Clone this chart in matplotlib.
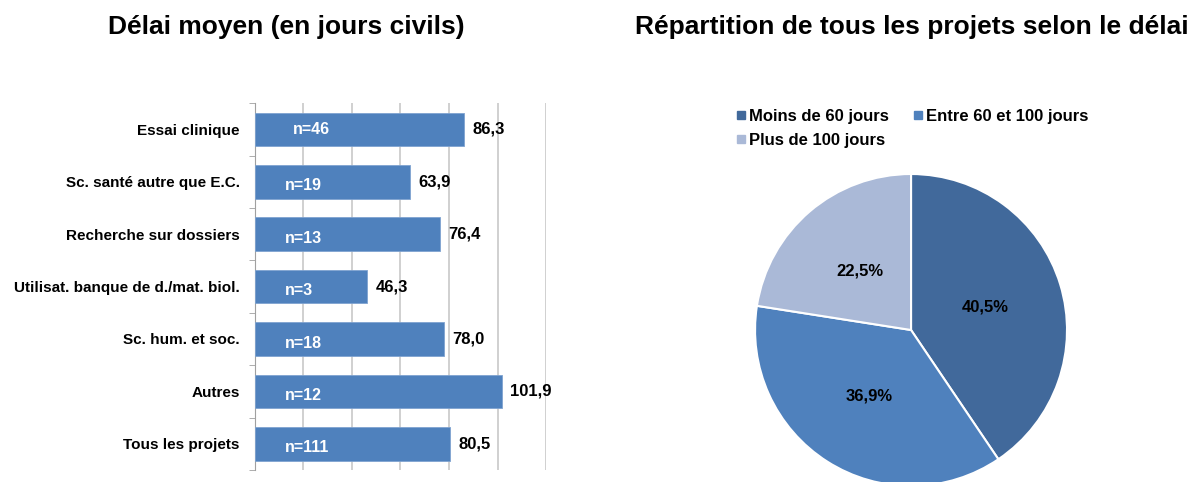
import numpy as np
import matplotlib
matplotlib.use('Agg')
import matplotlib.pyplot as plt
from matplotlib.lines import Line2D

plt.rcParams['font.family'] = ['Liberation Sans', 'DejaVu Sans']
plt.rcParams['font.weight'] = 'bold'

# Bar chart data (mean delay in calendar days)
categories = ['Essai clinique', 'Sc. santé autre que E.C.', 'Recherche sur dossiers',
              'Utilisat. banque de d./mat. biol.', 'Sc. hum. et soc.', 'Autres',
              'Tous les projets']
delays = [86.3, 63.9, 76.4, 46.3, 78.0, 101.9, 80.5]
counts = [46, 19, 13, 3, 18, 12, 111]

# Pie chart data
pie_labels = ['Moins de 60 jours', 'Entre 60 et 100 jours', 'Plus de 100 jours']
pie_values = [40.5, 36.9, 22.5]
pie_colors = ['#41699B', '#4F81BD', '#AAB9D7']

bar_color = '#4F81BD'


def fmt(v):
    return f'{v:.1f}'.replace('.', ',')


def main():
    fig = plt.figure(figsize=(11.93, 4.82), dpi=100)

    # ---- bar chart
    ax = fig.add_axes([0.2137, 0.025, 0.244, 0.761])
    y = np.arange(len(categories))
    ax.barh(y, delays, height=0.64, color=bar_color, edgecolor='#7FA3D0',
            linewidth=0.6, zorder=3)
    ax.set_xlim(0, 120)
    ax.set_ylim(len(categories) - 0.5, -0.5)
    ax.set_xticks(np.arange(20, 121, 20))
    ax.xaxis.grid(True, color='#C8C8C8', linewidth=1.2, zorder=0)
    ax.tick_params(axis='x', length=0, labelbottom=False)
    ax.set_yticks(y)
    ax.set_yticklabels(categories, fontsize=11, fontweight='bold')
    ax.tick_params(axis='y', length=0, pad=11)
    ax.set_yticks(np.arange(-0.5, len(categories)), minor=True)
    ax.tick_params(axis='y', which='minor', length=4, color='#A0A0A0')
    for s in ['top', 'right', 'bottom']:
        ax.spines[s].set_visible(False)
    ax.spines['left'].set_color('#A0A0A0')

    for i, (d, n) in enumerate(zip(delays, counts)):
        ax.text(d + 3.4, i, fmt(d), va='center', ha='left', fontsize=12,
                fontweight='bold', color='black')
        ax.text(15.5 if i == 0 else 12.5, i + (0 if i == 0 else 0.08), f'n={n}',
                va='center', ha='left', fontsize=11.5, fontweight='bold',
                color='white', zorder=4)

    fig.text(0.2402, 0.945, 'Délai moyen (en jours civils)', ha='center', va='center',
             fontsize=19, fontweight='bold')

    # ---- pie chart
    pax = fig.add_axes([0.6329, -0.0083, 0.2615, 0.6473])
    pax.pie(pie_values, colors=pie_colors, startangle=90, counterclock=False,
            autopct=lambda p: fmt(p) + '%', pctdistance=0.5,
            wedgeprops=dict(edgecolor='white', linewidth=1.5),
            textprops=dict(fontsize=12, fontweight='bold', color='black'))
    pax.set_xlim(-1, 1)
    pax.set_ylim(-1, 1)
    pax.set_aspect('equal')

    fig.text(0.764, 0.945, 'Répartition de tous les projets selon le délai',
             ha='center', va='center', fontsize=19, fontweight='bold')

    handles = [Line2D([], [], marker='s', linestyle='none', markersize=6,
                      markerfacecolor=c, markeredgecolor=c) for c in pie_colors]
    # matplotlib fills legend columns first, so reorder to get row-wise layout
    order = [0, 2, 1]
    fig.legend([handles[k] for k in order], [pie_labels[k] for k in order],
               loc='upper left', bbox_to_anchor=(0.603, 0.805),
               ncol=2, frameon=False, handletextpad=0.1, columnspacing=1.3,
               handlelength=0.8, labelspacing=0.55,
               prop=dict(size=12, weight='bold'))

    fig.savefig('out.png', dpi=100)


if __name__ == '__main__':
    main()
